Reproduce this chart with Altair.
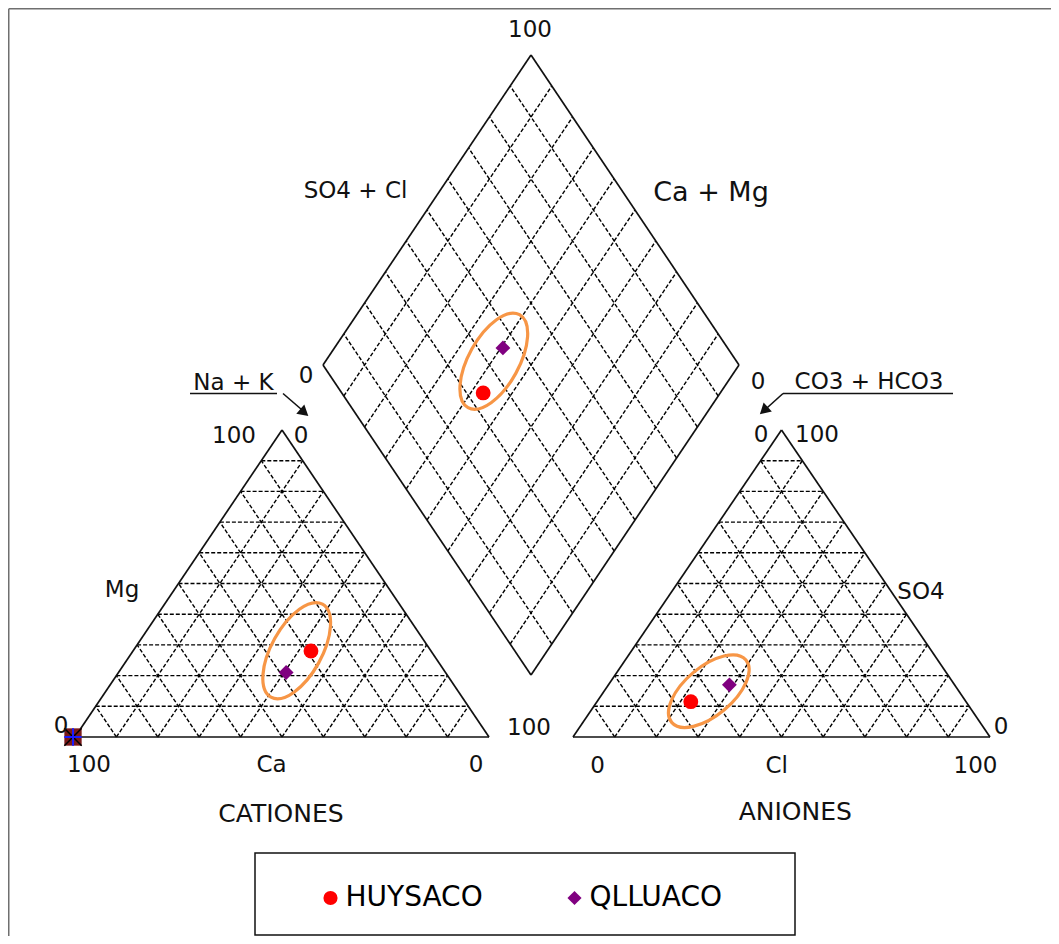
import altair as alt
import pandas as pd

# ---------------- data (percent of meq/L) ----------------
samples = ["HUYSACO", "QLLUACO"]
ca_pct = [29.0, 38.5]
mg_pct = [28.0, 21.0]
nak_pct = [43.0, 40.5]
hco3_pct = [66.0, 54.0]
so4_pct = [11.5, 17.0]
cl_pct = [22.5, 29.0]
sample_colors = ["#FF0000", "#800080"]
sample_shapes = ["circle", "diamond"]

grid_levels = [10, 20, 30, 40, 50, 60, 70, 80, 90]

# ---------------- layout (page pixels) ----------------
W, H = 1043, 928
CX0, CX1, CYB, CYT = 75.0, 489.0, 737.0, 430.0       # cation triangle
AX0, AX1, AYB, AYT = 573.0, 990.0, 737.0, 430.0      # anion triangle
DBX, DBY, DDX, DDY = 531.0, 675.0, 208.0, 310.0       # diamond bottom vertex + half sizes


def cat_xy(nak, mg):
    return (CX0 + (nak + mg / 2) / 100 * (CX1 - CX0), CYB - mg / 100 * (CYB - CYT))


def an_xy(cl, so4):
    return (AX0 + (cl + so4 / 2) / 100 * (AX1 - AX0), AYB - so4 / 100 * (AYB - AYT))


def dia_xy(camg, so4cl):
    return (DBX + (so4cl - camg) / 100 * DDX, DBY - (camg + so4cl) / 100 * DDY)


outline, dashed = [], []


def seg(lst, p, q):
    lst.append({"x": p[0], "y": p[1], "x2": q[0], "y2": q[1]})


# outlines
seg(outline, cat_xy(0, 0), cat_xy(100, 0))
seg(outline, cat_xy(0, 0), cat_xy(0, 100))
seg(outline, cat_xy(100, 0), cat_xy(0, 100))
seg(outline, an_xy(0, 0), an_xy(100, 0))
seg(outline, an_xy(0, 0), an_xy(0, 100))
seg(outline, an_xy(100, 0), an_xy(0, 100))
seg(outline, dia_xy(0, 0), dia_xy(100, 0))
seg(outline, dia_xy(0, 0), dia_xy(0, 100))
seg(outline, dia_xy(100, 0), dia_xy(100, 100))
seg(outline, dia_xy(0, 100), dia_xy(100, 100))

for k in grid_levels:
    # cation triangle
    seg(dashed, cat_xy(0, k), cat_xy(100 - k, k))          # Mg = k
    seg(dashed, cat_xy(k, 0), cat_xy(k, 100 - k))          # Na+K = k
    seg(dashed, cat_xy(100 - k, 0), cat_xy(0, 100 - k))    # Ca = k
    # anion triangle
    seg(dashed, an_xy(0, k), an_xy(100 - k, k))
    seg(dashed, an_xy(k, 0), an_xy(k, 100 - k))
    seg(dashed, an_xy(100 - k, 0), an_xy(0, 100 - k))
    # diamond
    seg(dashed, dia_xy(k, 0), dia_xy(k, 100))
    seg(dashed, dia_xy(0, k), dia_xy(100, k))

outline_df = pd.DataFrame(outline)
dashed_df = pd.DataFrame(dashed)

pts = pd.DataFrame({"Muestra": samples, "Ca": ca_pct, "Mg": mg_pct, "NaK": nak_pct,
                    "HCO3": hco3_pct, "SO4": so4_pct, "Cl": cl_pct})

xs = alt.Scale(domain=[8, 8 + W], nice=False, zero=False)
ys = alt.Scale(domain=[8, 8 + H], nice=False, zero=False, reverse=True)

legend = alt.Legend(title=None, orient="none", legendX=308.5, legendY=876,
                    direction="horizontal", labelFont="DejaVu Sans", labelFontSize=28,
                    labelColor="black", symbolSize=200, symbolStrokeWidth=0,
                    columnPadding=77, labelOffset=1, padding=0)
color_enc = alt.Color("Muestra:N", scale=alt.Scale(domain=samples, range=sample_colors), legend=legend)
shape_enc = alt.Shape("Muestra:N", scale=alt.Scale(domain=samples, range=sample_shapes), legend=legend)

# ---------------- layers ----------------
frame_df = pd.DataFrame([{"x": 8.75, "y": 8.75, "x2": 8 + W, "y2": 8.75},
                         {"x": 8.75, "y": 8.75, "x2": 8.75, "y2": 8 + H}])
frame = alt.Chart(frame_df).mark_rule(color="#6f6f6f", strokeWidth=1.5).encode(
    x=alt.X("x:Q", scale=xs, axis=None), y=alt.Y("y:Q", scale=ys, axis=None), x2="x2:Q", y2="y2:Q")

dashes = alt.Chart(dashed_df).mark_rule(color="#000000", strokeWidth=1.4, strokeDash=[4, 2]).encode(
    x=alt.X("x:Q", scale=xs, axis=None), y=alt.Y("y:Q", scale=ys, axis=None), x2="x2:Q", y2="y2:Q")

edges = alt.Chart(outline_df).mark_rule(color="#111111", strokeWidth=1.7).encode(
    x=alt.X("x:Q", scale=xs, axis=None), y=alt.Y("y:Q", scale=ys, axis=None), x2="x2:Q", y2="y2:Q")

cw, ch = (CX1 - CX0) / 100, (CYB - CYT) / 100
aw, ah = (AX1 - AX0) / 100, (AYB - AYT) / 100
dw, dh = DDX / 100, DDY / 100

cat_pts = alt.Chart(pts).transform_calculate(
    px=f"{CX0} + (datum.NaK + datum.Mg / 2) * {cw}",
    py=f"{CYB} - datum.Mg * {ch}",
).mark_point(filled=True, size=220, opacity=1).encode(
    x=alt.X("px:Q", scale=xs, axis=None), y=alt.Y("py:Q", scale=ys, axis=None),
    color=color_enc, shape=shape_enc)

an_pts = alt.Chart(pts).transform_calculate(
    px=f"{AX0} + (datum.Cl + datum.SO4 / 2) * {aw}",
    py=f"{AYB} - datum.SO4 * {ah}",
).mark_point(filled=True, size=220, opacity=1).encode(
    x=alt.X("px:Q", scale=xs, axis=None), y=alt.Y("py:Q", scale=ys, axis=None),
    color=color_enc, shape=shape_enc)

dia_pts = alt.Chart(pts).transform_calculate(
    px=f"{DBX} + ((datum.SO4 + datum.Cl) - (datum.Ca + datum.Mg)) * {dw}",
    py=f"{DBY} - ((datum.Ca + datum.Mg) + (datum.SO4 + datum.Cl)) * {dh}",
).mark_point(filled=True, size=220, opacity=1).encode(
    x=alt.X("px:Q", scale=xs, axis=None), y=alt.Y("py:Q", scale=ys, axis=None),
    color=color_enc, shape=shape_enc)

# orange highlight ellipses
ell_path_a = "M 0 -1 A 0.473 1 0 1 1 0 1 A 0.473 1 0 1 1 0 -1 Z"
ell_path_b = "M 0 -1 A 0.5 1 0 1 1 0 1 A 0.5 1 0 1 1 0 -1 Z"
ell_ab = pd.DataFrame({"x": [296.7, 493.8], "y": [650.7, 361.2]})
ell_c = pd.DataFrame({"x": [708.8], "y": [691.2]})
ellipses_ab = alt.Chart(ell_ab).mark_point(shape=ell_path_a, size=11300, angle=29, filled=False,
                                           stroke="#F79646", strokeWidth=3.2, opacity=1).encode(
    x=alt.X("x:Q", scale=xs, axis=None), y=alt.Y("y:Q", scale=ys, axis=None))
ellipses_c = alt.Chart(ell_c).mark_point(shape=ell_path_b, size=9400, angle=50, filled=False,
                                         stroke="#F79646", strokeWidth=3.2, opacity=1).encode(
    x=alt.X("x:Q", scale=xs, axis=None), y=alt.Y("y:Q", scale=ys, axis=None))

# corner marker at the cation origin
corner = pd.DataFrame({"x": [73.0], "y": [737.0]})
corner_sq = alt.Chart(corner).mark_point(shape="square", size=300, filled=True, color="#7a1a1a", opacity=1).encode(
    x=alt.X("x:Q", scale=xs, axis=None), y=alt.Y("y:Q", scale=ys, axis=None))
corner_x = alt.Chart(corner).mark_point(shape="M -1 -1 L 1 1 M -1 1 L 1 -1", size=300, filled=False,
                                        stroke="#000000", strokeWidth=1.5, opacity=1).encode(
    x=alt.X("x:Q", scale=xs, axis=None), y=alt.Y("y:Q", scale=ys, axis=None))
corner_p = alt.Chart(corner).mark_point(shape="M -1 0 L 1 0 M 0 -1 L 0 1", size=300, filled=False,
                                        stroke="#1a1aff", strokeWidth=2, opacity=1).encode(
    x=alt.X("x:Q", scale=xs, axis=None), y=alt.Y("y:Q", scale=ys, axis=None))

# text labels (center x, baseline y)
labels = pd.DataFrame([
    ("100", 530, 36.5, 23), ("SO4 + Cl", 355.5, 197.5, 23), ("Ca + Mg", 711, 200.5, 27),
    ("0", 306, 383, 23), ("0", 758, 388.5, 23),
    ("Na + K", 233.5, 390, 23), ("CO3 + HCO3", 869, 388.5, 23),
    ("100", 234, 442.7, 23), ("0", 301, 442.7, 23),
    ("0", 761, 441.7, 23), ("100", 817, 441.7, 23),
    ("Mg", 122, 597, 23), ("SO4", 921, 599.3, 23),
    ("0", 61, 733, 23), ("100", 529, 735, 23), ("0", 1001, 734, 23),
    ("100", 89, 771.7, 23), ("Ca", 271.5, 771.7, 23), ("0", 476, 771.7, 23),
    ("0", 597.5, 772.7, 23), ("Cl", 776.7, 772.7, 23), ("100", 975.5, 772.7, 23),
    ("CATIONES", 281, 822.3, 25), ("ANIONES", 795.3, 820, 25),
], columns=["t", "x", "y", "fs"])
texts = alt.Chart(labels).mark_text(font="DejaVu Sans", baseline="alphabetic", align="center",
                                    color="#111111").encode(
    x=alt.X("x:Q", scale=xs, axis=None), y=alt.Y("y:Q", scale=ys, axis=None),
    text="t:N", size=alt.Size("fs:Q", scale=None, legend=None))

# underlines and arrows
lines_df = pd.DataFrame([
    {"x": 190, "y": 393.5, "x2": 277, "y2": 393.5},
    {"x": 783, "y": 393.5, "x2": 953, "y2": 393.5},
    {"x": 283, "y": 393.5, "x2": 305, "y2": 412.5},
    {"x": 783, "y": 393.5, "x2": 763, "y2": 411.5},
])
ann_lines = alt.Chart(lines_df).mark_rule(color="#111111", strokeWidth=1.6).encode(
    x=alt.X("x:Q", scale=xs, axis=None), y=alt.Y("y:Q", scale=ys, axis=None), x2="x2:Q", y2="y2:Q")
heads_df = pd.DataFrame({"x": [304.3, 763.8], "y": [412.6, 410.6], "ang": [131.0, 227.6]})
heads = alt.Chart(heads_df).mark_point(shape="triangle-up", size=150, filled=True, color="#111111",
                                       opacity=1).encode(
    x=alt.X("x:Q", scale=xs, axis=None), y=alt.Y("y:Q", scale=ys, axis=None),
    angle=alt.Angle("ang:Q", scale=None))

# legend frame
box_df = pd.DataFrame([{"x": 255, "y": 853, "x2": 795, "y2": 935}])
box = alt.Chart(box_df).mark_rect(fill="white", stroke="#111111", strokeWidth=1.5).encode(
    x=alt.X("x:Q", scale=xs, axis=None), y=alt.Y("y:Q", scale=ys, axis=None), x2="x2:Q", y2="y2:Q")

chart = alt.layer(
    frame, box, dashes, edges, corner_sq, corner_x, corner_p,
    ann_lines, heads, texts,
    cat_pts, an_pts, dia_pts, ellipses_ab, ellipses_c,
).properties(
    width=W, height=H, padding=0, autosize=alt.AutoSizeParams(type="none"), background="white"
).configure_view(stroke=None)

chart.save("out.html", embed_options={"renderer": "svg", "actions": False})
